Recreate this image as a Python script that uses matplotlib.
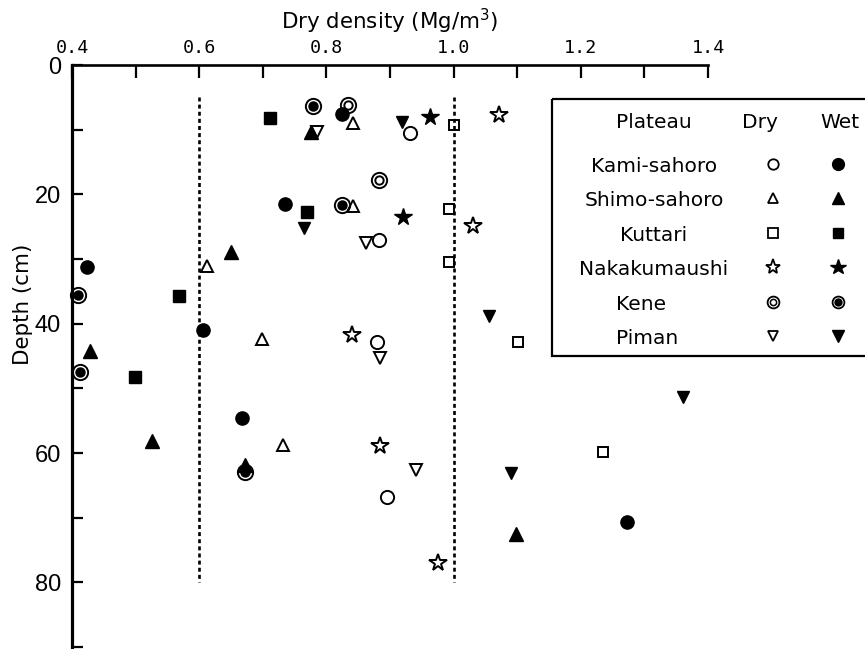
import matplotlib
matplotlib.use("Agg")
import matplotlib.pyplot as plt
from matplotlib.patches import Rectangle

# ------------------------------------------
# DATA  (dry density in Mg/m3, depth in cm)
# ------------------------------------------
kami_dry_x = [0.931, 0.882, 0.880, 0.896]
kami_dry_y = [10.5, 27.0, 42.9, 66.8]
kami_wet_x = [0.824, 0.735, 0.423, 0.606, 0.667, 1.272]
kami_wet_y = [7.5, 21.5, 31.2, 41.0, 54.6, 70.7]

shimo_dry_x = [0.842, 0.842, 0.612, 0.698, 0.732]
shimo_dry_y = [9.0, 21.8, 31.1, 42.3, 58.7]
shimo_wet_x = [0.775, 0.650, 0.428, 0.525, 0.672, 1.098]
shimo_wet_y = [10.3, 28.9, 44.3, 58.2, 61.8, 72.5]

kuttari_dry_x = [1.001, 0.993, 0.993, 1.102, 1.235]
kuttari_dry_y = [9.3, 22.3, 30.5, 42.8, 59.9]
kuttari_wet_x = [0.711, 0.769, 0.568, 0.499]
kuttari_wet_y = [8.2, 22.8, 35.7, 48.2]

naka_dry_x = [1.072, 1.031, 0.840, 0.885, 0.976]
naka_dry_y = [7.7, 24.9, 41.7, 58.9, 77.0]
naka_wet_x = [0.963, 0.921]
naka_wet_y = [8.0, 23.5]

kene_dry_x = [0.834, 0.882]
kene_dry_y = [6.2, 17.8]
kene_wet_x = [0.779, 0.824, 0.410, 0.413, 0.672]
kene_wet_y = [6.3, 21.6, 35.5, 47.4, 63.0]

piman_dry_x = [0.785, 0.863, 0.884, 0.941]
piman_dry_y = [10.3, 27.6, 45.3, 62.7]
piman_wet_x = [0.919, 0.765, 1.055, 1.360, 1.090]
piman_wet_y = [8.8, 25.2, 38.8, 51.4, 63.1]

ref_density = [0.6, 1.0]
ref_top, ref_bottom = 5, 80

plateaus = ["Kami-sahoro", "Shimo-sahoro", "Kuttari", "Nakakumaushi", "Kene", "Piman"]

x_ticks = [0.4, 0.5, 0.6, 0.7, 0.8, 0.9, 1.0, 1.1, 1.2, 1.3, 1.4]
x_labels = ["0.4", "", "0.6", "", "0.8", "", "1.0", "", "1.2", "", "1.4"]
y_ticks = [0, 10, 20, 30, 40, 50, 60, 70, 80, 90]
y_labels = ["0", "", "20", "", "40", "", "60", "", "80", ""]

# ------------------------------------------
# FIGURE
# ------------------------------------------
W, H = 865, 649
fig = plt.figure(figsize=(W / 100, H / 100), dpi=100)
ax = fig.add_axes([72 / W, 2 / H, 636 / W, 582 / H])

ax.set_xlim(0.4, 1.4)
ax.set_ylim(90, 0)

for s in ["right", "bottom"]:
    ax.spines[s].set_visible(False)
ax.spines["left"].set_linewidth(2.3)
ax.spines["top"].set_linewidth(1.9)

ax.xaxis.tick_top()
ax.xaxis.set_label_position("top")
ax.set_xticks(x_ticks)
ax.set_xticklabels(x_labels, family="DejaVu Sans Mono", fontsize=13.2)
ax.set_yticks(y_ticks)
ax.set_yticklabels(y_labels, family=["Liberation Sans Narrow", "Liberation Sans"], fontsize=17)
ax.tick_params(axis="x", direction="in", length=9.5, width=1.6, pad=6)
ax.tick_params(axis="y", direction="in", length=8, width=1.6, pad=8)

ax.set_xlabel("Dry density (Mg/m$^3$)", fontsize=15.4, labelpad=7)
ax.set_ylabel("Depth (cm)", fontsize=15.4)
ax.yaxis.set_label_coords(-0.062, 0.589)

# reference lines
ax.vlines(ref_density, ref_top, ref_bottom, colors="black",
          linestyles=(0, (1.5, 1.2)), linewidth=1.9)

ms = 9.5
kw_open = dict(ls="none", mfc="none", mec="black", mew=1.4, clip_on=False)
kw_full = dict(ls="none", color="black", clip_on=False)

ax.plot(kami_dry_x, kami_dry_y, "o", ms=ms, **kw_open)
ax.plot(kami_wet_x, kami_wet_y, "o", ms=ms, **kw_full)
ax.plot(shimo_dry_x, shimo_dry_y, "^", ms=8, **kw_open)
ax.plot(shimo_wet_x, shimo_wet_y, "^", ms=9.5, **kw_full)
ax.plot(kuttari_dry_x, kuttari_dry_y, "s", ms=7.5, **kw_open)
ax.plot(kuttari_wet_x, kuttari_wet_y, "s", ms=8.5, **kw_full)
ax.plot(naka_dry_x, naka_dry_y, "*", ms=13, **kw_open)
ax.plot(naka_wet_x, naka_wet_y, "*", ms=13, **kw_full)
# Kene: double ring (dry) / ring with dot (wet)
ax.plot(kene_dry_x, kene_dry_y, "o", ms=11, **kw_open)
ax.plot(kene_dry_x, kene_dry_y, "o", ms=6, **kw_open)
ax.plot(kene_wet_x, kene_wet_y, "o", ms=11, **kw_open)
ax.plot(kene_wet_x, kene_wet_y, "o", ms=6.5, **kw_full)
ax.plot(piman_dry_x, piman_dry_y, "v", ms=8, **kw_open)
ax.plot(piman_wet_x, piman_wet_y, "v", ms=9, **kw_full)

# ------------------------------------------
# LEGEND TABLE (drawn in pixel coordinates)
# ------------------------------------------
lg = fig.add_axes([0, 0, 1, 1])
lg.set_xlim(0, W)
lg.set_ylim(H, 0)
lg.axis("off")
lg.patch.set_alpha(0)

lg.add_patch(Rectangle((552, 99), 330, 257, fill=False, lw=1.6, ec="black", clip_on=False))

name_x, dry_x, wet_x = 654, 773, 838
head_base = 128
row0, row_step = 172, 34.4
tfs = 14.5

lg.text(name_x, head_base, "Plateau", ha="center", va="baseline", fontsize=tfs)
lg.text(760, head_base, "Dry", ha="center", va="baseline", fontsize=tfs)
lg.text(840, head_base, "Wet", ha="center", va="baseline", fontsize=tfs)

dry_marks = [("o", 7.5, 1), ("^", 6.5, 1), ("s", 6.5, 1), ("*", 11, 1), ("o", 8.5, 2), ("v", 6.5, 1)]
wet_marks = [("o", 8.5, 1), ("^", 8, 1), ("s", 7, 1), ("*", 11.5, 1), ("o", 8.5, 2), ("v", 8, 1)]

for i, name in enumerate(plateaus):
    yb = row0 + i * row_step
    if name in ("Kene", "Piman"):
        lg.text(616, yb, name, ha="left", va="baseline", fontsize=tfs)
    else:
        lg.text(name_x, yb, name, ha="center", va="baseline", fontsize=tfs)
    ym = yb - 8
    m, s, k = dry_marks[i]
    lg.plot([dry_x], [ym], m, ms=s, mfc="none", mec="black", mew=1.3)
    if k == 2:
        lg.plot([dry_x], [ym], m, ms=4.5, mfc="none", mec="black", mew=1.1)
    m, s, k = wet_marks[i]
    if k == 2:
        lg.plot([wet_x], [ym], m, ms=s, mfc="none", mec="black", mew=1.3)
        lg.plot([wet_x], [ym], m, ms=5, color="black")
    else:
        lg.plot([wet_x], [ym], m, ms=s, color="black")

plt.savefig("out.png", dpi=100)
